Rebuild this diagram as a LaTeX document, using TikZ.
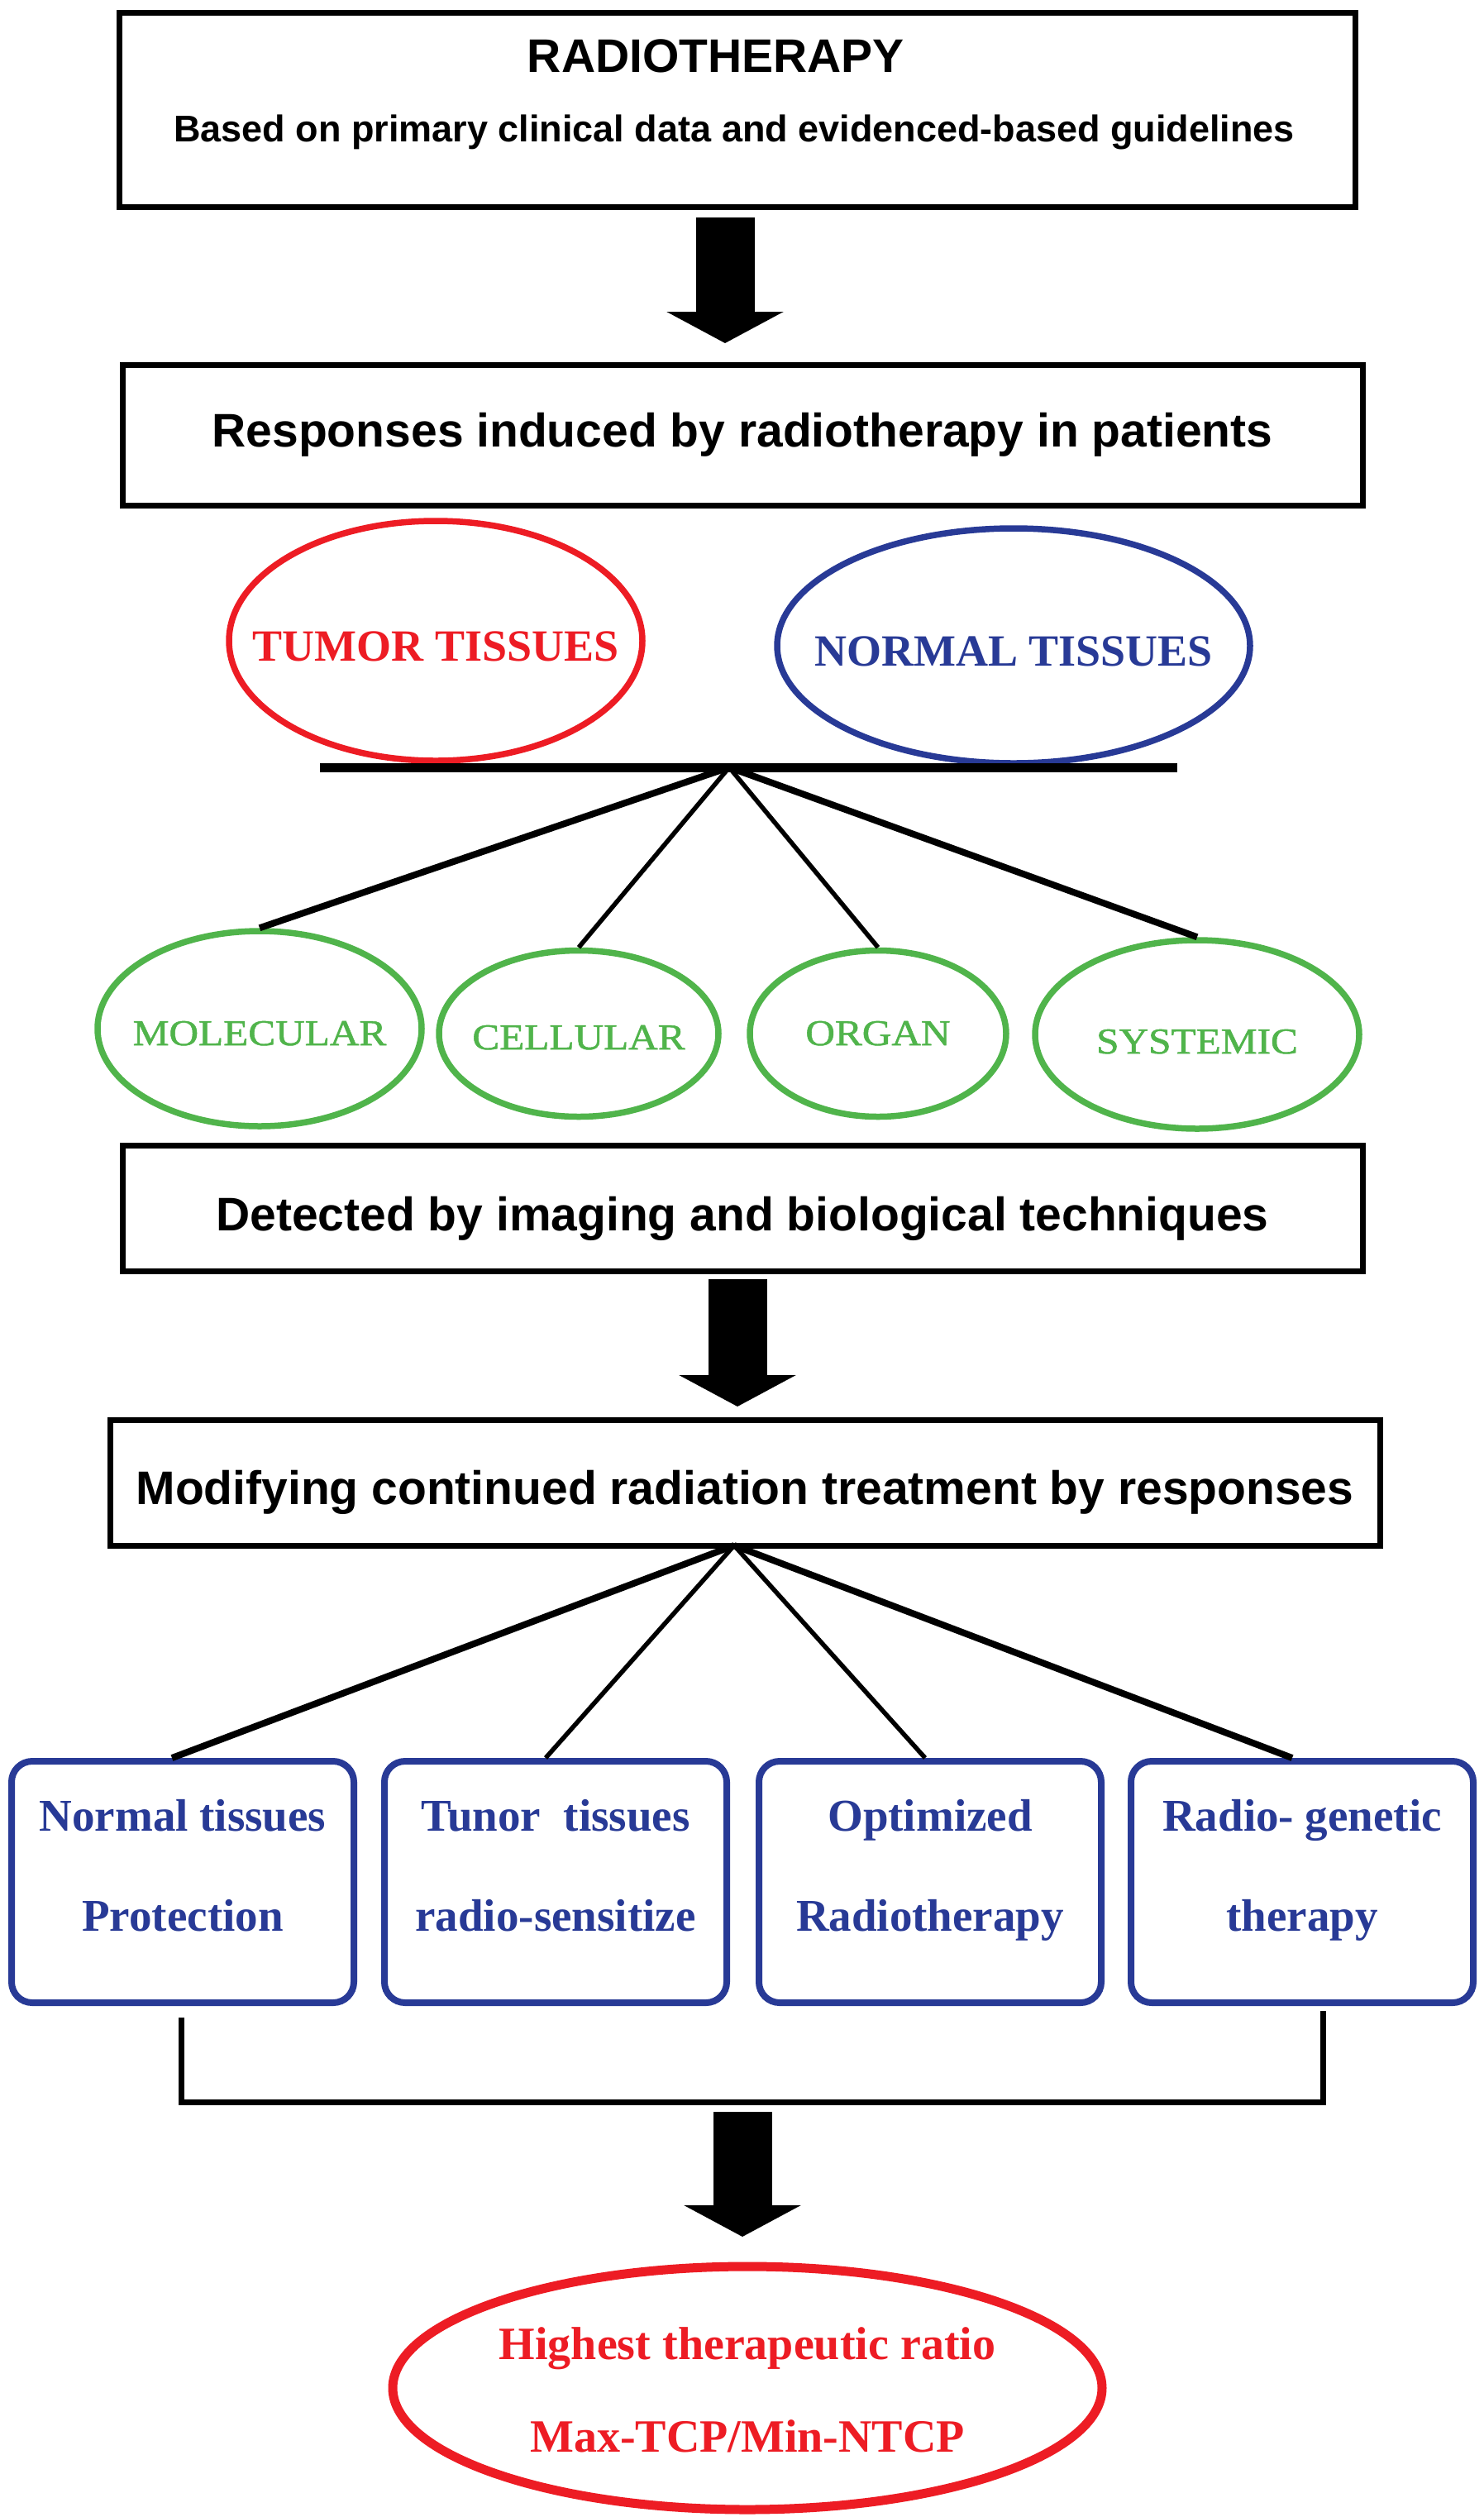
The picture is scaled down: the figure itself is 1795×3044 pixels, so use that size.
\documentclass[tikz,border=0pt]{standalone}
\usepackage{fontspec}
\setmainfont{Liberation Serif}
\newfontfamily\arialf{Liberation Sans}
\newfontfamily\timesf{Liberation Serif}
\newfontfamily\greenf[FakeStretch=1.12,FakeBold=1.2]{Liberation Serif}
\usetikzlibrary{shapes.geometric,arrows.meta}
\definecolor{tred}{RGB}{237,28,36}
\definecolor{nblue}{RGB}{40,58,150}
\definecolor{lgreen}{RGB}{80,180,75}
\begin{document}
\begin{tikzpicture}[x=1pt,y=-1pt,
  blackbox/.style={draw=black, line width=7pt, inner sep=0pt,
    font=\arialf\bfseries\fontsize{57}{68}\selectfont, text depth=0pt},
  blockarrow/.style={line width=71pt, -{Triangle[length=38pt,width=140pt]}},
  tissue/.style={ellipse, line width=7.5pt, inner sep=0pt,
    font=\timesf\bfseries\fontsize{54}{60}\selectfont, text height=48pt, text depth=0pt},
  level/.style={ellipse, draw=lgreen, text=lgreen, line width=7.5pt, inner sep=0pt,
    font=\greenf\fontsize{44}{50}\selectfont, text depth=0pt},
  action/.style={draw=nblue, text=nblue, line width=8pt, rounded corners=25pt,
    inner sep=0pt, minimum width=414pt, minimum height=292pt, align=center,
    font=\timesf\bfseries\fontsize{55}{121}\selectfont, text height=118pt, text depth=0pt},
  thicklink/.style={draw=black, line width=8pt},
  thinlink/.style={draw=black, line width=5.5pt}
]
\fill[white] (0,0) rectangle (1795,3044);
\useasboundingbox (0,0) rectangle (1795,3044);

% Box 1
\node[blackbox, minimum width=1495pt, minimum height=235pt] (box1) at (892,133) {};
\node[anchor=base, inner sep=0pt, font=\arialf\bfseries\fontsize{57}{60}\selectfont] (title) at (866,87) {RADIOTHERAPY};
\node[anchor=base, inner sep=0pt, font=\arialf\bfseries\fontsize{45}{50}\selectfont] (subtitle) at (888,171) {Based on primary clinical data and evidenced-based guidelines};

% Arrow 1
\coordinate (a1s) at (877,263);
\coordinate (a1e) at (877,415);
\draw[blockarrow] (a1s) -- (a1e);

% Box 2
\node[blackbox, minimum width=1500pt, minimum height=170pt, text height=28pt] (box2) at (898,526) {Responses induced by radiotherapy in patients};

% Tissue ellipses
\node[tissue, draw=tred, text=tred, minimum width=500pt, minimum height=290pt] (tumor) at (527,775) {\makebox[0pt]{TUMOR TISSUES}};
\node[tissue, draw=nblue, text=nblue, minimum width=572pt, minimum height=284pt] (normal) at (1226,781) {\makebox[0pt]{NORMAL TISSUES}};

% Bar
\coordinate (barL) at (387,928);
\coordinate (barR) at (1424,928);
\coordinate (fork1) at (882,928);
\draw[line width=11pt] (barL) -- (barR);

% Levels
\node[level, minimum width=392pt, minimum height=236pt, text height=40pt] (mol) at (314,1244) {\makebox[0pt]{MOLECULAR}};
\node[level, minimum width=338pt, minimum height=201pt, text height=38pt] (cell) at (700,1250) {\makebox[0pt]{CELLULAR}};
\node[level, minimum width=310pt, minimum height=201pt, text height=28pt] (org) at (1062,1250) {\makebox[0pt]{ORGAN}};
\node[level, minimum width=392pt, minimum height=228pt, text height=46pt] (sys) at (1448,1251) {\makebox[0pt]{SYSTEMIC}};

\draw[thicklink] (fork1) -- (mol.north);
\draw[thinlink] (fork1) -- (cell.north);
\draw[thinlink] (fork1) -- (org.north);
\draw[thicklink] (fork1) -- (sys.north);

% Box 3
\node[blackbox, minimum width=1500pt, minimum height=152pt, text height=54pt] (box3) at (898,1461) {Detected by imaging and biological techniques};

% Arrow 2
\coordinate (a2s) at (892,1547);
\coordinate (a2e) at (892,1701);
\draw[blockarrow] (a2s) -- (a2e);

% Box 4
\node[blackbox, minimum width=1536pt, minimum height=152pt, text height=52pt] (box4) at (901,1793) {Modifying continued radiation treatment by responses};
\coordinate (fork2) at (888,1869);

% Action boxes
\node[action] (bA) at (221,2276) {Normal tissues\\Protection};
\node[action] (bB) at (672,2276) {Tunor\ \ tissues\\radio-sensitize};
\node[action] (bC) at (1125,2276) {Optimized\\Radiotherapy};
\node[action] (bD) at (1575,2276) {Radio- genetic\\therapy};

\draw[thicklink] (fork2) -- ([xshift=-13pt]bA.north);
\draw[thinlink] (fork2) -- ([xshift=-12pt]bB.north);
\draw[thinlink] (fork2) -- ([xshift=-6pt]bC.north);
\draw[thicklink] (fork2) -- ([xshift=-12pt]bD.north);

% Bracket
\coordinate (brLt) at (219,2440);
\coordinate (brLb) at (219,2542);
\coordinate (brRb) at (1600,2542);
\coordinate (brRt) at (1600,2432);
\draw[line width=7pt] (brLt) -- (brLb) -- (brRb) -- (brRt);

% Arrow 3
\coordinate (a3s) at (898,2554);
\coordinate (a3e) at (898,2705);
\draw[blockarrow] (a3s) -- (a3e);

% Goal ellipse
\node[ellipse, draw=tred, text=tred, line width=11pt, minimum width=858pt, minimum height=294pt,
  inner sep=0pt, align=center, font=\timesf\bfseries\fontsize{56}{112}\selectfont,
  text height=154pt, text depth=0pt] (goal) at (904,2888)
  {\makebox[0pt]{Highest therapeutic ratio}\\\makebox[0pt]{Max-TCP/Min-NTCP}};
\end{tikzpicture}
\end{document}
